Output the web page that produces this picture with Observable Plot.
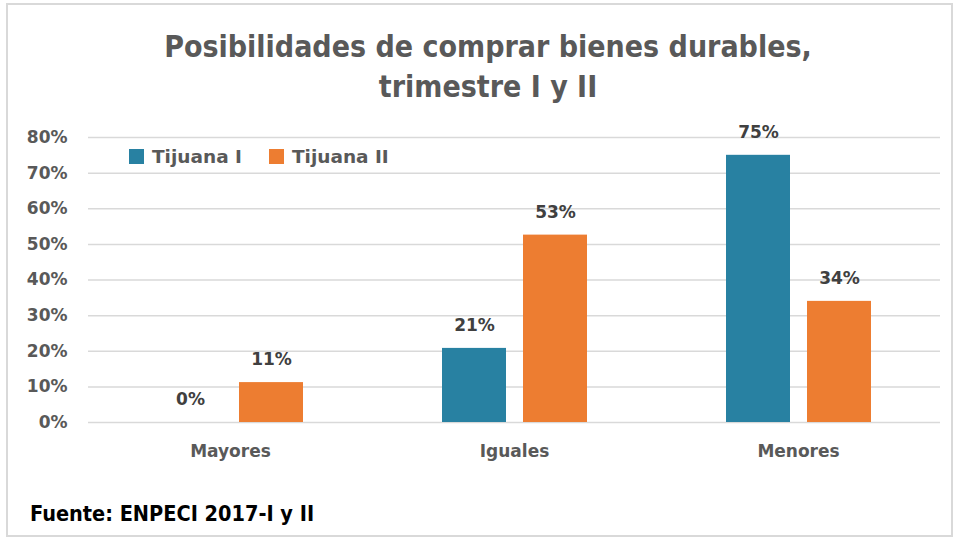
<!DOCTYPE html>
<html>
<head>
<meta charset="utf-8">
<script src="https://cdn.jsdelivr.net/npm/d3@7"></script>
<script src="https://cdn.jsdelivr.net/npm/@observablehq/plot@0.6"></script>
<style>
  html, body { margin: 0; padding: 0; background: #fff; }
  #wrap { position: relative; width: 957px; height: 540px; overflow: hidden; background: #fff; }
  #frame { position: absolute; left: 6px; top: 3px; width: 943px; height: 530px; border: 2px solid #d9d9d9; box-sizing: content-box; }
  #title { position: absolute; left: 18px; width: 940px; top: 27px; text-align: center;
           font-family: "Liberation Sans Narrow", "DejaVu Sans Condensed", sans-serif; font-weight: bold;
           font-size: 30px; line-height: 40px; color: #595959; }
  #legend { position: absolute; left: 129px; top: 146px; display: flex; align-items: center;
            font-family: "DejaVu Sans", sans-serif; font-weight: bold; font-size: 18.5px; color: #595959; }
  #legend .item { display: flex; align-items: center; margin-right: 27px; }
  #legend .sw { width: 15px; height: 15px; margin-right: 8px; }
  #footer { position: absolute; left: 30px; top: 501px; font-family: "Liberation Sans Narrow", "DejaVu Sans Condensed", sans-serif;
            font-weight: bold; font-size: 21.5px; color: #000; }
  #chart { position: absolute; left: 0; top: 0; }
</style>
</head>
<body>
<div id="wrap">
  <div id="frame"></div>
  <div id="chart"></div>
  <div id="title">Posibilidades de comprar bienes durables,<br>trimestre I y II</div>
  <div id="legend"></div>
  <div id="footer">Fuente: ENPECI 2017-I y II</div>
</div>
<script>
const categories = ["Mayores", "Iguales", "Menores"];
const seriesNames = ["Tijuana I", "Tijuana II"];
const tijuanaI = [0, 20.8, 75];
const tijuanaII = [11.2, 52.6, 34];
const yTicks = [0, 10, 20, 30, 40, 50, 60, 70, 80];
const colors = ["#2881A2", "#ED7D31"];

const table = [];
categories.forEach((c, i) => {
  table.push({cat: c, series: seriesNames[0], value: tijuanaI[i]});
  table.push({cat: c, series: seriesNames[1], value: tijuanaII[i]});
});

const styleEl = document.createElement("style");
styleEl.textContent = `
  #chart svg g[aria-label="y-grid"] line, #chart svg g[aria-label="y-axis"] g.tick line { stroke: #d9d9d9; stroke-opacity: 1; stroke-width: 1.5px; }
`;
document.head.appendChild(styleEl);

const chart = Plot.plot({
  width: 957,
  height: 540,
  marginTop: 137,
  marginBottom: 118,
  marginLeft: 88,
  marginRight: 17,
  style: {fontFamily: "DejaVu Sans, sans-serif", fontSize: "17px", fontWeight: "bold", color: "#595959", background: "transparent"},
  facet: {data: table, x: "cat"},
  fx: {domain: categories, padding: 0, label: null, tickSize: 0, tickPadding: 22},
  x: {domain: seriesNames, paddingInner: 0.21, paddingOuter: 0.858, axis: null},
  y: {domain: [0, 80], ticks: yTicks, tickFormat: d => d + "%", grid: true, tickSize: 0, tickPadding: 21, label: null},
  color: {domain: seriesNames, range: colors},
  marks: [
    Plot.barY(table, {x: "series", y: "value", fill: "series", insetLeft: 0, insetRight: 0}),
    Plot.text(table, {x: "series", y: "value", text: d => Math.round(d.value) + "%", dy: -23,
      fill: "#404040", fontSize: 17, fontWeight: "bold", lineAnchor: "middle"})
  ]
});
document.getElementById("chart").appendChild(chart);

const legend = document.getElementById("legend");
seriesNames.forEach((s, i) => {
  const item = document.createElement("div");
  item.className = "item";
  const sw = document.createElement("div");
  sw.className = "sw";
  sw.style.background = colors[i];
  const t = document.createElement("span");
  t.textContent = s;
  item.appendChild(sw);
  item.appendChild(t);
  legend.appendChild(item);
});
</script>
</body>
</html>
